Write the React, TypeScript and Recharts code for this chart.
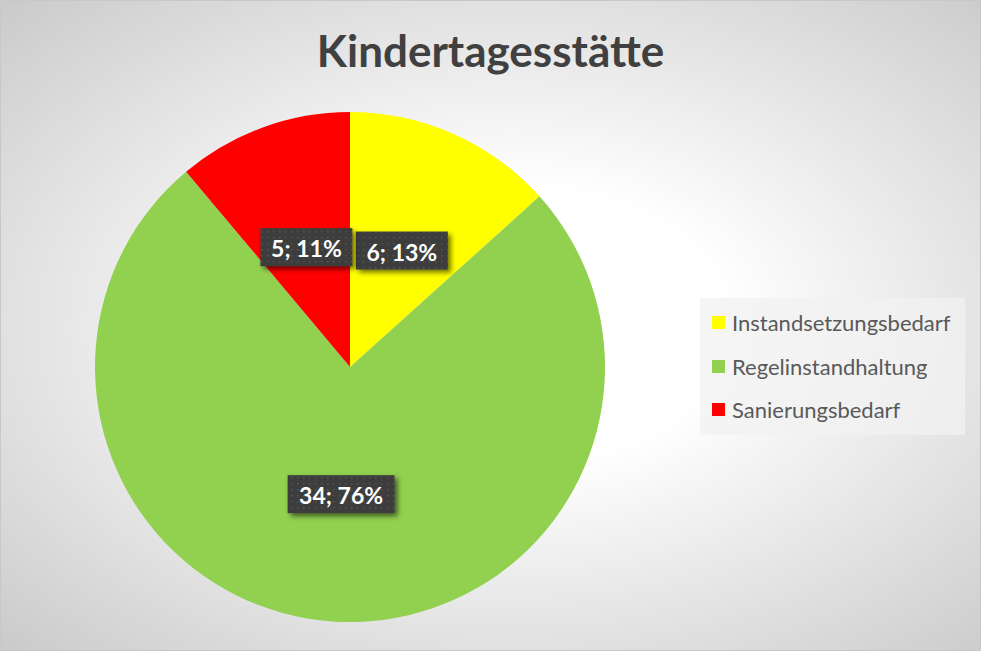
import { Cell, Legend, Pie, PieChart } from "recharts";

const categories = ["Instandsetzungsbedarf", "Regelinstandhaltung", "Sanierungsbedarf"];
const counts = [6, 34, 5];
const colors = ["#FFFF00", "#92D050", "#FF0000"];

const chartTitle = "Kindertagesstätte";

const data = categories.map((name, i) => ({ name, value: counts[i] }));

const RADIAN = Math.PI / 180;
const FONT = "Lato, 'Open Sans', sans-serif";

function DataLabel(props: any) {
  const { cx, cy, midAngle, outerRadius, value, percent } = props;
  const r = outerRadius * 0.5;
  const x = cx + r * Math.cos(-midAngle * RADIAN);
  const y = cy + r * Math.sin(-midAngle * RADIAN);
  const text = `${value}; ${Math.round(percent * 100)}%`;
  const w = text.length * 15 + 2;
  const h = 38;
  return (
    <g>
      <rect x={x - w / 2} y={y - h / 2} width={w} height={h} fill="url(#labelDots)" filter="url(#labelShadow)" />
      <text
        x={x}
        y={y + 1}
        textAnchor="middle"
        dominantBaseline="central"
        fill="#ffffff"
        fontFamily={FONT}
        fontWeight={700}
        fontSize={23}
      >
        {text}
      </text>
    </g>
  );
}

function LegendBox() {
  return (
    <div
      style={{
        width: 265,
        height: 137,
        background: "rgba(242, 242, 242, 0.75)",
        boxSizing: "border-box",
        paddingLeft: 12,
        paddingTop: 3,
      }}
    >
      {categories.map((name, i) => (
        <div key={name} style={{ display: "flex", alignItems: "center", height: 43.5 }}>
          <span style={{ width: 13, height: 13, background: colors[i], marginRight: 7, display: "inline-block" }} />
          <span style={{ fontFamily: FONT, fontSize: 22, color: "#595959" }}>{name}</span>
        </div>
      ))}
    </div>
  );
}

export default function App() {
  return (
    <div
      style={{
        position: "absolute",
        left: 0,
        top: 0,
        width: 981,
        height: 651,
        boxSizing: "border-box",
        border: "1px solid #c8c8c8",
        background: "radial-gradient(ellipse at 52% 50%, #ffffff 0%, #ffffff 30%, #cacaca 100%)",
        overflow: "hidden",
      }}
    >
      <div
        style={{
          position: "absolute",
          left: 0,
          width: 979,
          top: 23,
          textAlign: "center",
          fontFamily: FONT,
          fontWeight: 700,
          fontSize: 44,
          color: "#404040",
        }}
      >
        {chartTitle}
      </div>
      <PieChart
        width={979}
        height={649}
        margin={{ top: 0, right: 0, bottom: 0, left: 0 }}
        style={{ position: "absolute", left: 0, top: 0 }}
      >
        <defs>
          <pattern id="labelDots" width="6" height="6" patternUnits="userSpaceOnUse">
            <rect width="6" height="6" fill="#3c3c3c" />
            <rect x="2" y="2" width="1.5" height="1.5" fill="#545454" />
          </pattern>
          <filter id="labelShadow" x="-20%" y="-30%" width="150%" height="180%">
            <feDropShadow dx="3" dy="3" stdDeviation="2.5" floodColor="#000" floodOpacity="0.55" />
          </filter>
        </defs>
        <Pie
          data={data}
          dataKey="value"
          nameKey="name"
          cx={349}
          cy={366}
          outerRadius={255}
          startAngle={90}
          endAngle={-270}
          stroke="none"
          labelLine={false}
          label={DataLabel}
          isAnimationActive={false}
        >
          {data.map((d, i) => (
            <Cell key={d.name} fill={colors[i]} />
          ))}
        </Pie>
        <Legend
          content={() => <LegendBox />}
          wrapperStyle={{ position: "absolute", left: 699, top: 297, width: 265, height: 137 }}
        />
      </PieChart>
    </div>
  );
}
